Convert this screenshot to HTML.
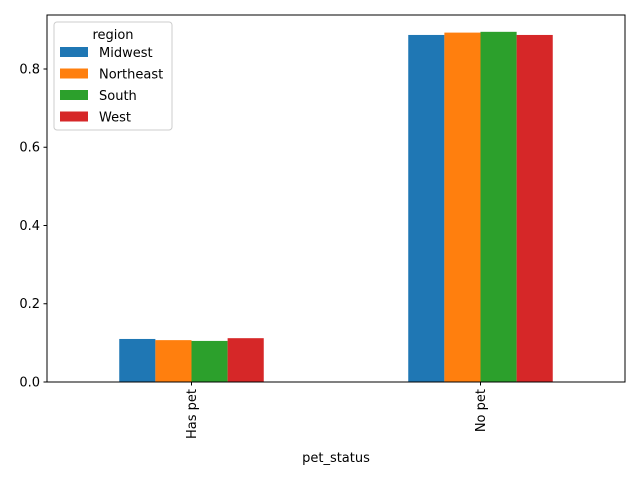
<!DOCTYPE html>
<html><head><meta charset="utf-8"><style>
body{margin:0;background:#fff;font-family:"Liberation Sans","DejaVu Sans",sans-serif;}
svg text{font-family:"DejaVu Sans","Liberation Sans",sans-serif;font-size:13px;fill:#000;}
</style></head><body>
<svg id="chart" width="640" height="480"></svg>
<script>
const categories = ["Has pet","No pet"];
const seriesNames = ["Midwest","Northeast","South","West"];
const seriesValues = [[0.110,0.887],[0.107,0.893],[0.105,0.895],[0.112,0.887]];
const yTicks = [0.0,0.2,0.4,0.6,0.8];
const yTickLabels = ["0.0","0.2","0.4","0.6","0.8"];
const colors = ["#1f77b4","#ff7f0e","#2ca02c","#d62728"];
const NS="http://www.w3.org/2000/svg";
const svg=document.getElementById('chart');
const L=47,R=625,T=15,B=382,yMax=0.938;
function y(v){return B-(B-T)*v/yMax;}
function xc(i){return L+(R-L)*(i+0.5)/categories.length;}
function mk(t,a,p){const e=document.createElementNS(NS,t);for(const k in a)e.setAttribute(k,a[k]);(p||svg).appendChild(e);return e;}
const bw=(R-L)/categories.length*0.5/seriesNames.length;
seriesNames.forEach((s,si)=>{categories.forEach((c,ci)=>{
 const x0=xc(ci)-bw*seriesNames.length/2+si*bw;
 const r=mk('rect',{x:x0,y:y(seriesValues[si][ci]),width:bw,height:B-y(seriesValues[si][ci]),fill:colors[si]});
 
 
});});
const fr=mk('rect',{x:L,y:T,width:R-L,height:B-T,fill:'none',stroke:'#000','stroke-width':1});


yTicks.forEach((v,i)=>{
 mk('line',{x1:L-3.5,x2:L,y1:y(v),y2:y(v),stroke:'#000'});
 const t=mk('text',{x:L-7,y:y(v)+4.5,'text-anchor':'end'});t.textContent=yTickLabels[i];
 
 
});
categories.forEach((c,i)=>{
 mk('line',{x1:xc(i),x2:xc(i),y1:B,y2:B+3.5,stroke:'#000'});
 const t=mk('text',{x:0,y:0,'text-anchor':'end',transform:`translate(${xc(i)+4.5},${B+7}) rotate(-90)`});t.textContent=c;
 
 
});
const xt=mk('text',{x:(L+R)/2,y:462,'text-anchor':'middle'});xt.textContent='pet_status';


const lg=mk('g',{});


mk('rect',{x:54,y:22,width:118,height:108,rx:3,fill:'#fff',stroke:'#ccc'},lg);
const lt=mk('text',{x:113,y:39,'text-anchor':'middle'},lg);lt.textContent='region';
seriesNames.forEach((s,i)=>{
 const yy=47+i*21.5;
 mk('rect',{x:60,y:yy,width:28,height:10,fill:colors[i]},lg);
 const t=mk('text',{x:99,y:yy+10},lg);t.textContent=s;
 
 
});
</script>
</body></html>
